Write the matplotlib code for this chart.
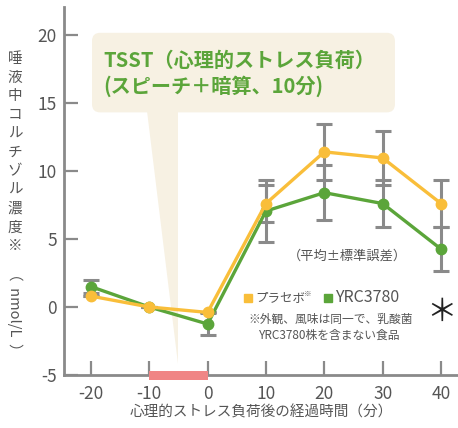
import matplotlib
matplotlib.use("Agg")
import matplotlib.pyplot as plt
from matplotlib.patches import FancyBboxPatch, Polygon, Rectangle

plt.rcParams['font.family'] = ['Noto Sans CJK JP', 'DejaVu Sans']
plt.rcParams['axes.unicode_minus'] = False

# data
minutes = [-20, -10, 0, 10, 20, 30, 40]
placebo = [0.8, 0.0, -0.4, 7.6, 11.4, 10.95, 7.6]
placebo_err = [0.0, 0.0, 0.0, 1.35, 2.05, 2.0, 1.7]
yrc = [1.5, 0.0, -1.25, 7.05, 8.4, 7.6, 4.25]
yrc_err = [0.5, 0.0, 0.8, 2.25, 2.0, 1.75, 1.6]
stress_period = [-10, 0]

yellow = "#F9BE3A"
green = "#5BA53A"
grey = "#8A8A8A"
beige = "#F7F1E3"
textgrey = "#555555"

fig = plt.figure(figsize=(4.58, 4.28), dpi=100)
ax = fig.add_axes([0.1397, 0.1238, 0.8603, 0.86])
ax.set_xlim(-24.6, 42.9)
ax.set_ylim(-5, 22.05)

# callout box and pointer
box = FancyBboxPatch((-19.8, 14.3), 51.9, 5.85,
                     boxstyle="round,pad=0,rounding_size=1.4",
                     mutation_aspect=0.43, fc=beige, ec="none", zorder=0)
ax.add_patch(box)
ax.add_patch(Polygon([(-10.3, 14.4), (-5.1, 14.4), (-5.1, -4.2)],
                     closed=True, fc=beige, ec="none", zorder=0))
ax.text(-17.9, 18.1, "TSST（心理的ストレス負荷）", color=green,
        fontsize=14.5, fontweight="bold", va="center", ha="left")
ax.text(-17.9, 16.2, "(スピーチ＋暗算、10分)", color=green,
        fontsize=14.5, fontweight="bold", va="center", ha="left")

# error bars behind lines
ax.errorbar(minutes, placebo, yerr=placebo_err, fmt="none", ecolor=grey,
            elinewidth=2.2, capsize=6, capthick=2.2, zorder=2)
ax.errorbar(minutes, yrc, yerr=yrc_err, fmt="none", ecolor=grey,
            elinewidth=2.2, capsize=6, capthick=2.2, zorder=2)

ax.plot(minutes, placebo, color=yellow, lw=2.4, marker="o", ms=7.5, zorder=4)
ax.plot(minutes, yrc, color=green, lw=2.4, marker="o", ms=7.5, zorder=3)

# stress period bar on the x axis
ax.add_patch(Rectangle((stress_period[0], -5.4), stress_period[1] - stress_period[0], 0.72,
                       fc="#F08585", ec="none", zorder=5, clip_on=False))

for s in ["top", "right"]:
    ax.spines[s].set_visible(False)
for s in ["left", "bottom"]:
    ax.spines[s].set_color(grey)
    ax.spines[s].set_linewidth(2)

ax.set_xticks(minutes)
ax.set_yticks([-5, 0, 5, 10, 15, 20])
ax.tick_params(direction="in", length=10, width=1.6, color=grey,
               labelcolor=textgrey, labelsize=12.5)
ax.tick_params(axis="x", pad=7)
ax.tick_params(axis="y", pad=5)

ax.set_xlabel("心理的ストレス負荷後の経過時間（分）", fontsize=10.5,
              color=textgrey, labelpad=2)

# vertical y label: upright kana/kanji, rotated unit
ylab = "唾液中コルチゾル濃度※"
for i, ch in enumerate(ylab):
    fig.text(15 / 458, 1 - (59 + i * 18.7) / 428, ch, fontsize=10.5,
             color=textgrey, ha="center", va="center")
fig.text(15 / 458, 1 - 312 / 428, "（  nmol/L  ）", fontsize=10.5, color=textgrey,
         rotation=-90, ha="center", va="center")

# notes and legend
ax.text(23.9, 3.7, "（平均±標準誤差）", fontsize=9.5, color=textgrey,
        ha="center", va="center")
ax.plot([6.9], [0.66], marker="s", ms=5.5, color=yellow, ls="none", clip_on=False)
ax.text(8.2, 0.66, "プラセボ", fontsize=9, color=textgrey, ha="left", va="center")
ax.text(16.5, 0.95, "※", fontsize=5.5, color=textgrey, ha="left", va="center")
ax.plot([20.65], [0.66], marker="s", ms=5.5, color=green, ls="none", clip_on=False)
ax.text(21.8, 0.66, "YRC3780", fontsize=11.5, color=textgrey, ha="left", va="center")
ax.text(21.0, -0.9, "※外観、風味は同一で、乳酸菌", fontsize=8.5, color=textgrey,
        ha="center", va="center")
ax.text(21.0, -2.1, "YRC3780株を含まない食品", fontsize=8.5, color=textgrey,
        ha="center", va="center")
ax.text(40, -0.4, "＊", fontsize=22, color="#222222", ha="center", va="center")

fig.savefig("out.png", dpi=100)
